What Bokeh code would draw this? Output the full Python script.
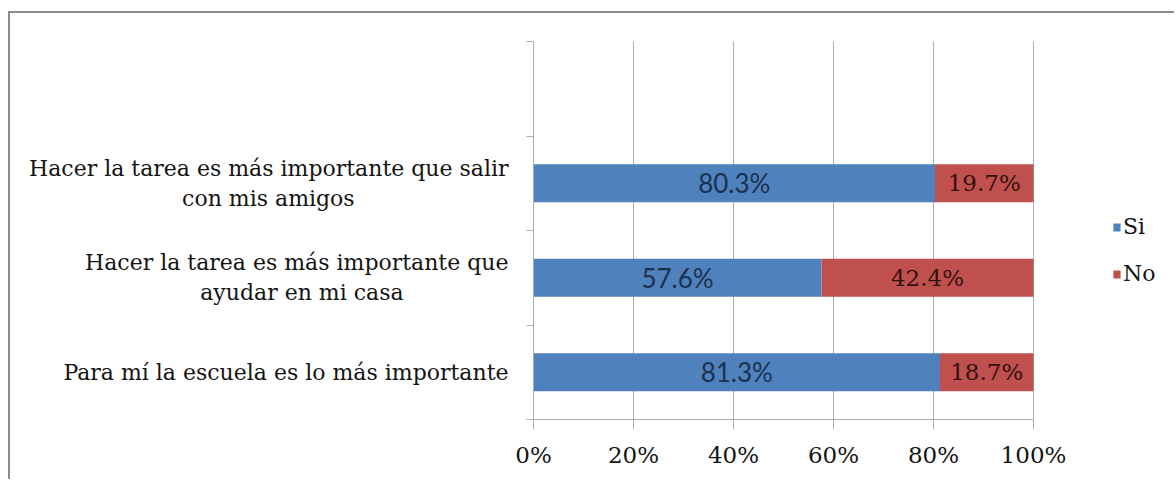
import numpy as np
from bokeh.plotting import figure
from bokeh.models import (ColumnDataSource, FixedTicker, NumeralTickFormatter,
                          Legend, LegendItem, Range1d)
from bokeh.core.properties import value
from bokeh.embed import file_html
from bokeh.resources import INLINE

# ---- data -------------------------------------------------------------
category_lines = [
    ["Para mí la escuela es lo más importante"],
    ["Hacer la tarea es más importante que", "ayudar en mi casa"],
    ["Hacer la tarea es más importante que salir", "con mis amigos"],
    [""],
]
si_values = [81.3, 57.6, 80.3]
no_values = [18.7, 42.4, 19.7]
series_names = ["Si", "No"]
x_ticks = [0, 0.2, 0.4, 0.6, 0.8, 1.0]

SERIF = "DejaVu Serif"
BLUE = "#4F81BD"
RED = "#C0504D"
GRID = "#adadad"
TEXT = "#141414"
NBSP = "\u00a0"


def centred_label(lines):
    # the axis right-aligns each line; pad shorter lines so they look centred
    if len(lines) == 1:
        return lines[0]
    n = max(len(l) for l in lines)
    return "\n".join(l + NBSP * int(round((n - len(l)) * 0.8)) for l in lines)


categories = [centred_label(ls) for ls in category_lines]

si = np.array(si_values) / 100.0
no = np.array(no_values) / 100.0
ypos = np.arange(len(si)) + 0.5

src = ColumnDataSource(dict(
    y=ypos, si_left=np.zeros_like(si), si_right=si,
    no_left=si, no_right=si + no,
    si_mid=si / 2, no_mid=si + no / 2,
    si_lab=[f"{v:.1f}%" for v in si_values],
    no_lab=[f"{v:.1f}%" for v in no_values],
))

# layout: 100 % spans 500 px; the frame runs on to the right edge so the
# legend (drawn inside the frame) can sit right of the bars
FIG_W, FIG_H = 1166, 468
LEFT, TOP, BOTTOM = 523, 28, 62
SCALE_W = 500
x_max = (FIG_W - LEFT) / SCALE_W

p = figure(width=FIG_W, height=FIG_H, output_backend="svg", toolbar_location=None,
           x_range=Range1d(0, x_max), y_range=Range1d(0, len(categories)),
           min_border_left=LEFT, min_border_right=0,
           min_border_top=TOP, min_border_bottom=BOTTOM)
p.margin = (11, 0, 0, 8)
p.styles = {"border-top": "2px solid #8c8c8c", "border-left": "2px solid #8c8c8c"}
p.outline_line_color = None
p.background_fill_color = "white"
p.border_fill_color = "white"

r_si = p.hbar(y="y", left="si_left", right="si_right", height=0.40,
              color=BLUE, line_color=None, source=src)
r_no = p.hbar(y="y", left="no_left", right="no_right", height=0.40,
              color=RED, line_color=None, source=src)

p.text(x="si_mid", y="y", text="si_lab", source=src, text_align="center",
       text_baseline="middle", text_font=value("Lato"), text_font_size="26px",
       text_color="#1a3152")
p.text(x="no_mid", y="y", text="no_lab", source=src, text_align="center",
       text_baseline="middle", text_font=value(SERIF), text_font_size="23px",
       text_color="#331010")

# x axis
xa = p.xaxis[0]
xa.ticker = FixedTicker(ticks=x_ticks)
xa.bounds = (x_ticks[0], x_ticks[-1])
xa.formatter = NumeralTickFormatter(format="0%")
xa.axis_line_color = GRID
xa.major_tick_line_color = GRID
xa.major_tick_out = 10
xa.major_tick_in = 0
xa.minor_tick_line_color = None
xa.major_label_text_font = SERIF
xa.major_label_text_font_size = "23px"
xa.major_label_text_color = TEXT
xa.major_label_standoff = 12

p.xgrid.ticker = FixedTicker(ticks=x_ticks)
p.xgrid.grid_line_color = GRID
p.ygrid.grid_line_color = None

# y axis: labels at category centres, small ticks at category boundaries
ya = p.yaxis[0]
centres = [i + 0.5 for i in range(len(categories))]
bounds = list(range(len(categories) + 1))
ya.ticker = FixedTicker(ticks=centres, minor_ticks=bounds)
ya.major_label_overrides = {c: lab for c, lab in zip(centres, categories)}
ya.major_tick_line_color = None
ya.minor_tick_line_color = GRID
ya.minor_tick_out = 7
ya.minor_tick_in = 0
ya.axis_line_color = GRID
ya.major_label_text_font = SERIF
ya.major_label_text_font_size = "22px"
ya.major_label_text_color = TEXT
ya.major_label_standoff = 18

legend = Legend(items=[LegendItem(label=series_names[0], renderers=[r_si]),
                       LegendItem(label=series_names[1], renderers=[r_no])],
                location=(579, 133), orientation="vertical",
                border_line_color=None, background_fill_alpha=0,
                padding=0, margin=0, glyph_width=9, glyph_height=10,
                label_standoff=2, label_height=24, spacing=22,
                label_text_font=SERIF, label_text_font_size="22px",
                label_text_color=TEXT)
p.add_layout(legend, "center")

open("out.html", "w").write(file_html(p, INLINE))
